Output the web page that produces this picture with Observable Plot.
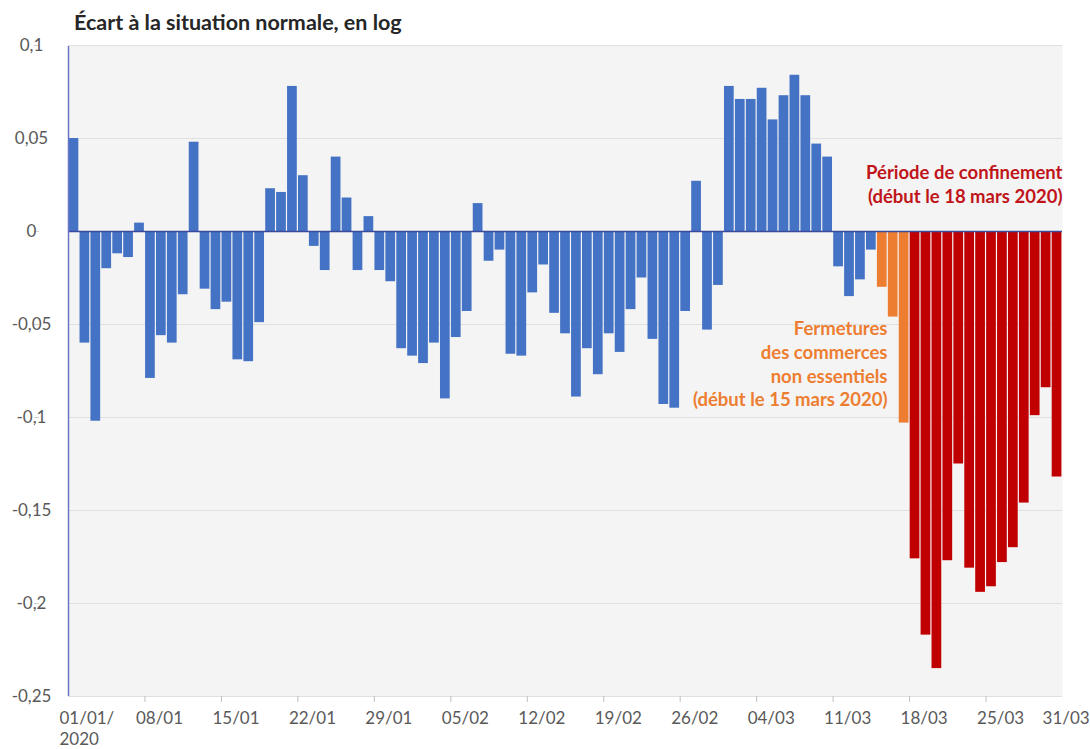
<!DOCTYPE html>
<html><head><meta charset="utf-8">
<script src="https://cdn.jsdelivr.net/npm/d3@7"></script>
<script src="https://cdn.jsdelivr.net/npm/@observablehq/plot@0.6"></script>
<style>
html,body{margin:0;padding:0;background:#fff;}
body{width:1090px;height:749px;overflow:hidden;font-family:Lato,"Open Sans",sans-serif;}
#title{height:36px;box-sizing:border-box;padding:9px 0 0 74px;line-height:26px;font-size:21.5px;font-weight:bold;color:#262626;white-space:nowrap;}
#chart svg{display:block;overflow:visible;}
</style></head><body>
<div id="title">Écart à la situation normale, en log</div>
<div id="chart"></div>
<script>
// Daily values, 01/01/2020 -> 31/03/2020 (91 days)
const values = [
  0.050, -0.060, -0.102, -0.020, -0.012, -0.014, 0.0045, -0.079, -0.056, -0.060, -0.034,
  0.048, -0.031, -0.042, -0.038, -0.069, -0.070, -0.049, 0.023, 0.021, 0.078, 0.030,
  -0.008, -0.021, 0.040, 0.018, -0.021, 0.008, -0.021, -0.027, -0.063,
  -0.067, -0.071, -0.060, -0.090, -0.057, -0.043, 0.015, -0.016, -0.010, -0.066,
  -0.067, -0.033, -0.018, -0.044, -0.055, -0.089, -0.063, -0.077, -0.055, -0.065,
  -0.042, -0.025, -0.058, -0.093, -0.095, -0.043, 0.027, -0.053, -0.029,
  0.078, 0.071, 0.071, 0.077, 0.060, 0.073, 0.084, 0.073, 0.047, 0.040, -0.019,
  -0.035, -0.026, -0.010, -0.030, -0.046, -0.103, -0.176, -0.217, -0.235, -0.177,
  -0.125, -0.181, -0.194, -0.191, -0.178, -0.170, -0.146, -0.099, -0.084, -0.132
];
const tickDays   = [0, 7, 14, 21, 28, 35, 42, 49, 56, 63, 70, 77, 84, 90];
const tickLabels = ["01/01/\n2020", "08/01", "15/01", "22/01", "29/01", "05/02", "12/02",
                    "19/02", "26/02", "04/03", "11/03", "18/03", "25/03", "31/03"];
const weekTicks  = [7, 14, 21, 28, 35, 42, 49, 56, 63, 70, 77, 84];
const yTicks = [0.1, 0.05, 0, -0.05, -0.1, -0.15, -0.2, -0.25];
const periodNames  = ["Normal", "Fermetures", "Confinement"];
const periodStarts = [0, 74, 77];
const periodColors = ["#4472C4", "#ED7D31", "#C00000"];
const noteConfinement = "Période de confinement\n(début le 18 mars 2020)";
const noteFermetures  = "Fermetures\ndes commerces\nnon essentiels\n(début le 15 mars 2020)";

const periodOf = i => {
  let p = 0;
  periodStarts.forEach((s, k) => { if (i >= s) p = k; });
  return periodNames[p];
};
const rows = values.map((v, i) => ({i, v, period: periodOf(i)}));
const labelOf = new Map(tickDays.map((d, k) => [d, tickLabels[k]]));
const fmtY = d => String(d).replace(".", ",");

const chart = Plot.plot({
  width: 1090, height: 713,
  marginLeft: 68, marginRight: 28, marginTop: 9, marginBottom: 53,
  style: {fontFamily: "Lato, 'Open Sans', sans-serif", fontSize: "17px", color: "#595959", background: "transparent", overflow: "visible"},
  x: {type: "linear", domain: [0, values.length], axis: null},
  y: {domain: [-0.25, 0.1], axis: null},
  color: {domain: periodNames, range: periodColors},
  marks: [
    Plot.frame({fill: "#f4f4f4", stroke: null}),
    Plot.ruleY(yTicks, {stroke: "#e0e0e0", strokeWidth: 1}),
    Plot.rectY(rows, {x1: "i", x2: d => d.i + 1, y: "v", fill: "period", insetLeft: 0.6, insetRight: 0.6}),
    Plot.ruleY([0], {stroke: "#3b4a9c", strokeWidth: 1.5}),
    Plot.axisY({ticks: yTicks, tickFormat: fmtY, tickSize: 5, tickPadding: 3, stroke: "#d0d0d0", textAnchor: "middle", dx: -29, fill: "#595959", label: null}),
    Plot.axisX({ticks: weekTicks, tickSize: 6, stroke: "#bfbfbf", fill: "none", label: null}),
    Plot.axisX({ticks: tickDays, tickFormat: d => labelOf.get(d), tickSize: 0, tickPadding: 13, textAnchor: "start", dx: -9, lineHeight: 1.22, fill: "#595959", label: null}),
    Plot.ruleX([0], {stroke: "#6b74c4", strokeWidth: 1.5, y1: -0.25, y2: 0.1, insetBottom: -1}),
    Plot.text([noteConfinement], {frameAnchor: "top-right", textAnchor: "end", lineAnchor: "top", dy: 116, fill: "#C0141A", fontWeight: "bold", fontSize: 18.5, lineHeight: 1.3}),
    Plot.text([noteFermetures], {frameAnchor: "top-right", textAnchor: "end", lineAnchor: "top", dx: -175, dy: 273, fill: "#ED7D31", fontWeight: "bold", fontSize: 18.5, lineHeight: 1.28})
  ]
});
document.getElementById("chart").appendChild(chart);
</script>
</body></html>
